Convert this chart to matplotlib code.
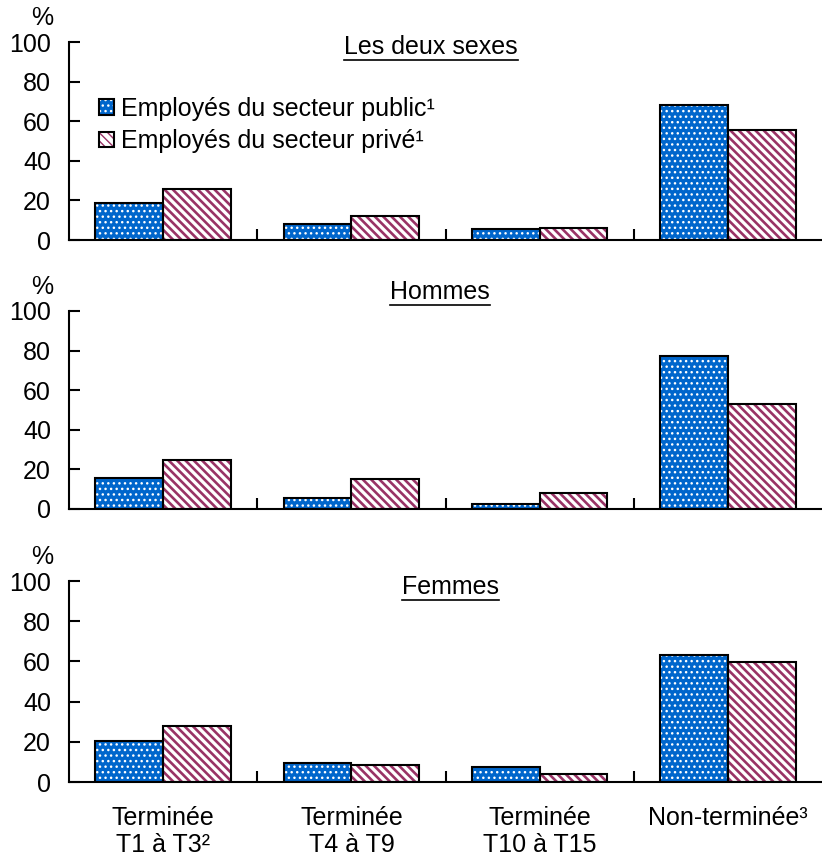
import numpy as np
import matplotlib
matplotlib.use("Agg")
import matplotlib.pyplot as plt
from matplotlib.patches import Rectangle

plt.rcParams['font.family'] = ['Liberation Sans', 'DejaVu Sans']
plt.rcParams['font.size'] = 18

# --- Données ---
categories = ["Terminée\nT1 à T3²", "Terminée\nT4 à T9", "Terminée\nT10 à T15", "Non-terminée³"]
panneaux = ["Les deux sexes", "Hommes", "Femmes"]
public = [
    [18.5, 8.0, 5.5, 68.0],
    [15.5, 5.7, 2.7, 77.3],
    [20.5, 9.5, 7.5, 63.0],
]
prive = [
    [26.0, 12.0, 6.0, 55.5],
    [24.8, 15.2, 7.9, 52.9],
    [28.0, 8.5, 4.0, 59.5],
]
serie_noms = ["Employés du secteur public¹", "Employés du secteur privé¹"]

bleu = "#0066CC"
violet = "#993366"
HACH_PUB = "..."
HACH_PRIV = "\\\\\\\\"

fig = plt.figure(figsize=(8.22, 8.59), dpi=100)

# positions des axes (en fraction de la figure)
boites = [
    [0.084, 0.7206, 0.916, 0.2305],
    [0.084, 0.4075, 0.916, 0.2305],
    [0.084, 0.0896, 0.916, 0.2340],
]
titre_pos = [(431, 47), (440, 292), (450, 587)]

x = np.arange(len(categories))
larg = 0.36


def epaisseur(p, lw):
    if hasattr(p, "set_hatch_linewidth"):
        p.set_hatch_linewidth(lw)


def barres(ax, vals, decal, face, hatch, hcol, lw):
    b = ax.bar(x + decal, vals, larg, color=face, edgecolor=hcol, hatch=hatch,
               linewidth=0, zorder=2)
    for p in b:
        epaisseur(p, lw)
    ax.bar(x + decal, vals, larg, fill=False, edgecolor="black", linewidth=1.5, zorder=3)


for i, ax_box in enumerate(boites):
    ax = fig.add_axes(ax_box)
    barres(ax, public[i], -larg / 2, bleu, HACH_PUB, "white", 1.0)
    barres(ax, prive[i], larg / 2, "white", HACH_PRIV, violet, 1.9)

    ax.set_xlim(-0.5, len(categories) - 0.5)
    ax.set_ylim(0, 100)
    ax.set_yticks([0, 20, 40, 60, 80, 100])
    ax.spines["top"].set_visible(False)
    ax.spines["right"].set_visible(False)
    ax.spines["left"].set_linewidth(1.5)
    ax.spines["bottom"].set_linewidth(1.5)
    ax.spines["bottom"].set_zorder(4)
    ax.tick_params(axis="y", direction="in", length=8, width=1.5, labelsize=18, pad=13)

    # traits aux frontières des groupes, étiquettes au centre
    ax.set_xticks(x[:-1] + 0.5)
    ax.set_xticklabels([])
    ax.tick_params(axis="x", which="major", direction="in", length=8, width=1.5)
    ax.set_xticks(x, minor=True)
    ax.tick_params(axis="x", which="minor", length=0, pad=17, labelsize=18)
    if i == 2:
        ax.set_xticklabels(categories, minor=True, linespacing=1.2)

    ax.text(-0.036, 1.12, "%", transform=ax.transAxes, ha="center", va="center", fontsize=18)

    tx, ty = titre_pos[i]
    fig.text(tx / 822, 1 - ty / 859, panneaux[i], ha="center", va="center", fontsize=18)

    if i == 0:
        h_pub = (Rectangle((0, 0), 1, 1, facecolor=bleu, edgecolor="white", hatch=HACH_PUB, linewidth=0),
                 Rectangle((0, 0), 1, 1, fill=False, edgecolor="black", linewidth=1.5))
        h_priv = (Rectangle((0, 0), 1, 1, facecolor="white", edgecolor=violet, hatch=HACH_PRIV, linewidth=0),
                  Rectangle((0, 0), 1, 1, fill=False, edgecolor="black", linewidth=1.5))
        epaisseur(h_pub[0], 1.0)
        epaisseur(h_priv[0], 1.9)
        ax.legend([h_pub, h_priv], serie_noms, loc="center left", bbox_to_anchor=(0.023, 0.58),
                  frameon=False, handlelength=0.6, handleheight=0.6,
                  handletextpad=0.3, labelspacing=0.33, borderpad=0, fontsize=18)

fig.canvas.draw()
rend = fig.canvas.get_renderer()
for t in fig.texts:
    bb = t.get_window_extent(rend)
    y = bb.y0 - 1
    fig.add_artist(plt.Line2D([bb.x0 / 822, bb.x1 / 822], [y / 859, y / 859],
                              color="black", linewidth=1.2))

fig.savefig("out.png", dpi=100)
